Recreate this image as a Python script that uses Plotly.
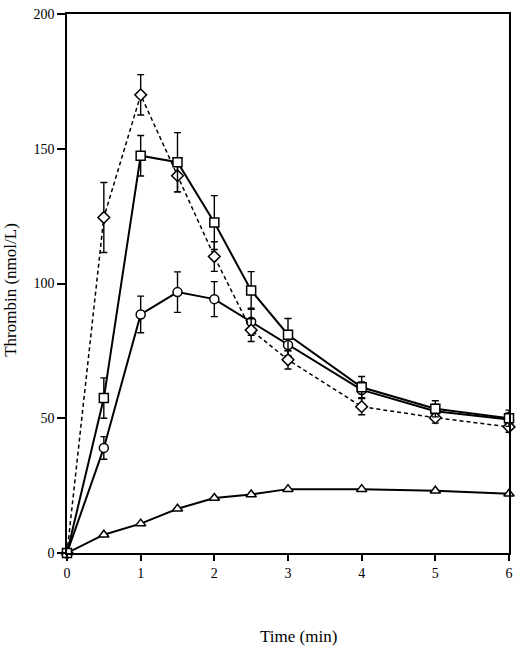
import plotly.graph_objects as go

time = [0, 0.5, 1, 1.5, 2, 2.5, 3, 4, 5, 6]

diamond_y = [0, 124.5, 170, 140, 110, 82.7, 71.7, 54.3, 50.2, 46.8]
diamond_err = [0, 13, 7.5, 6, 5.5, 4.2, 3.4, 3, 2, 2]

square_y = [0, 57.5, 147.4, 145, 122.6, 97.4, 81, 61.5, 53.5, 50]
square_err = [0, 7.5, 7.5, 11, 10, 7, 6, 4, 3, 3]

circle_y = [0, 39, 88.5, 96.8, 94.2, 85.8, 77.2, 60.5, 52.6, 49.5]
circle_err = [0, 4.2, 6.8, 7.5, 6.5, 5, 4, 3, 2.5, 2.5]

triangle_y = [0, 6.8, 10.9, 16.4, 20.4, 21.7, 23.7, 23.7, 23.1, 22]

FONT = "Liberation Serif, Times New Roman, serif"

fig = go.Figure()

def add(y, err, symbol, dash, width):
    fig.add_trace(go.Scatter(
        x=time, y=y, mode="lines+markers",
        line=dict(color="black", width=width, dash=dash),
        marker=dict(symbol=symbol, size=9, color="white",
                    line=dict(color="black", width=1.5)),
        error_y=(dict(type="data", array=err, visible=True, color="black",
                      thickness=1.4, width=3.5) if err is not None else None),
        showlegend=False,
        cliponaxis=False,
    ))

add(triangle_y, None, "triangle-up", "solid", 2)
add(circle_y, circle_err, "circle", "solid", 2)
add(diamond_y, diamond_err, "diamond", "4px,3px", 1.5)
add(square_y, square_err, "square", "solid", 2)

fig.update_layout(
    width=520, height=648,
    margin=dict(l=67, r=8, t=7, b=95),
    plot_bgcolor="white", paper_bgcolor="white",
    font=dict(family=FONT, size=14, color="black"),
    xaxis=dict(range=[0, 6], tickvals=[0, 1, 2, 3, 4, 5, 6],
               showgrid=False, zeroline=False, showline=True,
               linecolor="black", linewidth=1.5, mirror=True,
               ticks="outside", ticklen=6, tickwidth=1.5, tickcolor="black"),
    yaxis=dict(range=[0, 200], tickvals=[0, 50, 100, 150, 200],
               showgrid=False, zeroline=False, showline=True,
               linecolor="black", linewidth=1.5, mirror=True,
               ticks="outside", ticklen=8, tickwidth=1.5, tickcolor="black"),
    annotations=[
        dict(text="Time (min)", xref="paper", yref="paper",
             x=(300 - 67) / (512 - 67), y=-(638 - 553) / 546,
             xanchor="center", yanchor="middle", showarrow=False,
             font=dict(family=FONT, size=17)),
        dict(text="Thrombin (nmol/L)", xref="paper", yref="paper",
             x=-(67 - 10) / 445, y=(553 - 286) / 546,
             xanchor="center", yanchor="middle", showarrow=False,
             textangle=-90, font=dict(family=FONT, size=17)),
    ],
)

fig.write_html("out.html", config={"displayModeBar": False},
               post_script="document.body.style.margin='0';")
